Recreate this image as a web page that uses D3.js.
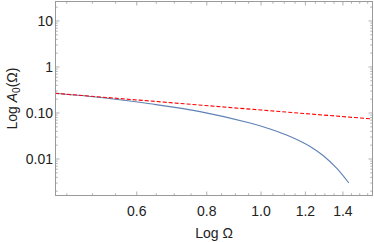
<!DOCTYPE html>
<html><head><meta charset="utf-8">
<script src="https://cdn.jsdelivr.net/npm/d3@7"></script>
<style>body{margin:0;background:#fff}svg{display:block}text{font-family:"Liberation Sans",Arial,sans-serif;fill:#222}</style>
</head><body><svg id="c" width="374" height="242"></svg>
<script>
// data
const omega  = [0.4287, 0.5265, 0.6335, 0.7781, 0.9558, 1.0377, 1.1267, 1.2233, 1.2920, 1.3655, 1.4343];
const aCurve = [0.2681, 0.2119, 0.1585, 0.1072, 0.0606, 0.0449, 0.0308, 0.0187, 0.01174, 0.00622, 0.00301];
const redOmega = [0.4287, 1.0, 1.581];
const redA     = [0.2681, 0.116, 0.0741];
const xTicks = [0.6, 0.8, 1.0, 1.2, 1.4];
const xTickLabels = ["0.6", "0.8", "1.0", "1.2", "1.4"];
const xMinor = [0.45,0.5,0.55,0.65,0.7,0.75,0.85,0.9,0.95,1.05,1.1,1.15,1.25,1.3,1.35,1.45,1.5,1.55];
const yTicks = [10, 1, 0.1, 0.01];
const yTickLabels = ["10", "1", "0.10", "0.01"];

const L = 55.5, R = 372.5, T = 1.5, B = 195.5;
const x = d3.scaleLog().domain([0.4296, 1.581]).range([L, R]);
const y = d3.scaleLog().domain([0.00161, 26.5]).range([B, T]);
const svg = d3.select("#c");
const frameCol = "#9a9a9a";

const yMinor = [];
for (let e = -3; e <= 1; e++) for (let k = 2; k <= 9; k++) { const v = k * Math.pow(10, e); if (v > 0.00161 && v < 26.5) yMinor.push(v); }

// data lines
svg.append("path").datum(omega.map((o, i) => [o, aCurve[i]]))
  .attr("fill", "none").attr("stroke", "#5E81B5").attr("stroke-width", 1.1)
  .attr("d", d3.line().x(d => x(d[0])).y(d => y(d[1])).curve(d3.curveCatmullRom.alpha(0.5)));
svg.append("path").datum(redOmega.map((o, i) => [o, redA[i]]))
  .attr("fill", "none").attr("stroke", "#ff0000").attr("stroke-width", 1.1)
  .attr("stroke-dasharray", "4,2")
  .attr("d", d3.line().x(d => x(d[0])).y(d => y(d[1])));

// frame
svg.append("rect").attr("x", L).attr("y", T).attr("width", R - L).attr("height", B - T)
  .attr("fill", "none").attr("stroke", frameCol).attr("stroke-width", 1);

const g = svg.append("g").attr("stroke", frameCol).attr("stroke-width", 0.8);
function xt(v, len) {
  g.append("line").attr("x1", x(v)).attr("x2", x(v)).attr("y1", B).attr("y2", B - len);
  g.append("line").attr("x1", x(v)).attr("x2", x(v)).attr("y1", T).attr("y2", T + len);
}
function yt(v, len) {
  g.append("line").attr("y1", y(v)).attr("y2", y(v)).attr("x1", L).attr("x2", L + len);
  g.append("line").attr("y1", y(v)).attr("y2", y(v)).attr("x1", R).attr("x2", R - len);
}
xTicks.forEach(v => xt(v, 4)); xMinor.forEach(v => xt(v, 2.2));
yTicks.forEach(v => yt(v, 4)); yMinor.forEach(v => yt(v, 2.2));

// tick labels
xTicks.forEach((v, i) => svg.append("text").attr("x", x(v)).attr("y", 215.5)
  .attr("text-anchor", "middle").attr("font-size", 14).text(xTickLabels[i]));
yTicks.forEach((v, i) => svg.append("text").attr("x", 53).attr("y", y(v) + 5)
  .attr("text-anchor", "end").attr("font-size", 14).text(yTickLabels[i]));

// axis labels
svg.append("text").attr("x", (L + R) / 2).attr("y", 238).attr("text-anchor", "middle")
  .attr("font-size", 14).text("Log Ω");
const yl = svg.append("text").attr("transform", `translate(17,${(T + B) / 2}) rotate(-90)`)
  .attr("text-anchor", "middle").attr("font-size", 14);
yl.append("tspan").text("Log ");
yl.append("tspan").attr("font-style", "italic").text("A");
yl.append("tspan").attr("font-size", 10).attr("dy", 3).text("0");
yl.append("tspan").attr("dy", -3).text("(Ω)");
</script></body></html>
